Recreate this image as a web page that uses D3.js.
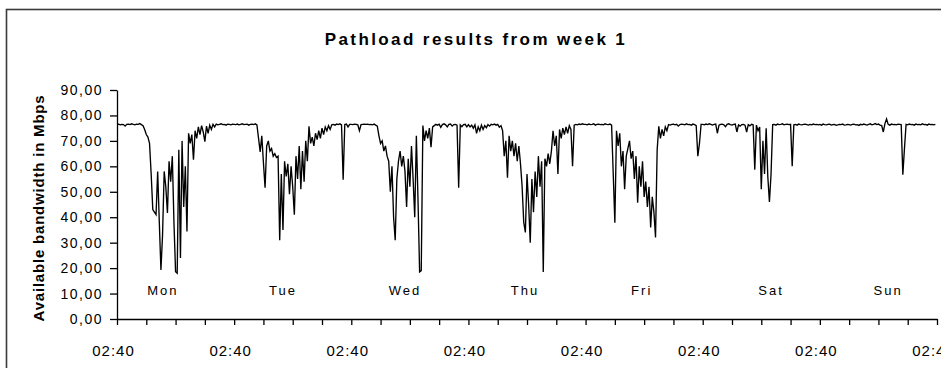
<!DOCTYPE html>
<html>
<head>
<meta charset="utf-8">
<script src="https://cdn.jsdelivr.net/npm/d3@7"></script>
<style>
  html, body { margin: 0; padding: 0; background: #fff; }
  svg { display: block; }
  text { font-family: "Liberation Sans", Arial, sans-serif; fill: #000; }
</style>
</head>
<body>
<div id="chart"></div>
<script>
// one value every 20 minutes, each day starting at 02:40
var mon = [
  76.5, 76.6, 76.3, 76.5, 76.4, 75.8, 76.5, 76.6, 76.4, 76.7, 76.5, 76.3,
  76.6, 76.5, 76.8, 76.4, 76.0, 74.5, 72.5, 71.5, 69, 57, 43, 42,
  41, 58, 38, 19.3, 33, 58, 52, 41.7, 62, 54, 64, 38,
  18.6, 18, 66.5, 24, 70, 44, 60, 34.4, 73, 69, 72.5, 62.6,
  74, 71, 75.5, 72.5, 76, 73.5, 69.7, 75.8, 73, 76.2, 74.5, 76.5,
  75.5, 76.6, 76.3, 76.5, 76.7, 76.4, 76.5, 76.2, 76.6, 76.5, 76.3, 76.6
];
var tue = [
  76.5, 76.4, 76.6, 76.3, 76.5, 76.7, 76.4, 76.5, 76.6, 76.2, 76.5, 76.6,
  76.4, 76.7, 76.3, 71, 65.7, 72, 61.4, 51.6, 68, 70, 66, 67,
  64, 65, 63.5, 64, 31, 57, 35, 62, 56, 61, 49, 60,
  52, 41, 64, 55, 68, 51, 66, 54, 70, 62, 75.7, 69,
  71.5, 68, 73, 70.5, 74, 71, 75, 72.5, 75.5, 74, 76, 74.5,
  76.3, 76.5, 76.2, 76.6, 76.4, 76.7, 76.3, 54.7, 76.4, 76.6, 75.5, 76.5
];
var wed = [
  76.5, 76.4, 76.6, 76.5, 76.3, 74, 76.4, 76.5, 76.6, 76.5, 76.6, 76.4,
  76.5, 76.3, 76.6, 76.2, 75.8, 72, 69, 70, 66, 68, 64, 62,
  50, 60, 40, 31, 55, 62, 66, 60, 64, 58, 44, 63,
  52, 68, 55, 40, 72, 47, 18.5, 19, 76, 70, 74, 71,
  75, 67.5, 75.5, 76, 76.5, 76.2, 76.6, 75.3, 76.4, 76.7, 76.3, 75.5,
  76.5, 76.6, 75.8, 76.4, 76.5, 76.2, 51.6, 76.3, 75.6, 76.4, 76.5, 75.5
];
var thu = [
  76.4, 75.5, 76.2, 75, 76.3, 73, 75.5, 74, 76.2, 74.5, 76, 75.2,
  76.4, 75.8, 76.5, 76.3, 76.6, 76.2, 76.5, 75.4, 76, 74, 64, 70,
  55.5, 72, 66, 70, 64, 69, 62, 68, 61, 52, 38, 34,
  57, 45, 30, 55, 42, 58, 48, 64, 52, 62, 18.5, 63,
  60, 65, 61, 66, 74, 68, 72, 57, 74.5, 71, 75, 72.5,
  75.5, 73, 76, 74.5, 60, 76.2, 76.5, 76.3, 76.6, 76.4, 76.7, 76.5
];
var fri = [
  76.5, 76.3, 76.6, 76.4, 76.5, 76.7, 76.2, 76.5, 76.6, 76.4, 76.5, 76.3,
  76.7, 76.5, 76.4, 76.6, 76.2, 57, 37.8, 74, 68, 73, 60, 66,
  51, 64, 67, 70, 63, 66, 55, 64, 45.7, 60, 52, 62,
  48, 54, 44, 52, 36, 48, 42, 32, 66.5, 75.7, 71, 74.5,
  72, 75.5, 74, 76.4, 76.2, 76.5, 76.6, 76.3, 76.5, 75.8, 76.4, 76.6,
  76.5, 76.3, 76.7, 76.4, 76.5, 76.2, 76.6, 76.4, 76, 64, 69, 76.5
];
var sat = [
  76.5, 76.3, 76.6, 76.4, 76.7, 76.5, 76.2, 76.5, 76.6, 73, 76.2, 76.5,
  76.6, 76.3, 75.6, 76.5, 76.7, 76.4, 76.2, 76.5, 76.6, 73.5, 76.3, 75.8,
  76.4, 76.5, 76.2, 73.5, 76.4, 75.9, 76.5, 76.3, 58.7, 76.2, 74, 75.5,
  51, 70, 57, 75, 56, 46, 57, 76.4, 76.5, 76.2, 76.6, 76.4,
  76.5, 76.7, 76.3, 76.5, 76.6, 76.4, 76.5, 60, 76.3, 76.5, 76.2, 76.6,
  76.4, 76.3, 76.5, 76.6, 76.4, 76.2, 76.5, 76.3, 76.6, 76.4, 76.5, 76.3
];
var sun = [
  76.5, 76.2, 76.6, 76.4, 76.3, 76.5, 76.6, 76.2, 76.4, 76.5, 76.1, 76.3,
  76.5, 76.4, 76.6, 76.2, 76.3, 76.5, 76.4, 76.2, 76.5, 76.6, 76.3, 76.4,
  76.1, 76.5, 76.3, 76.6, 76.4, 76.2, 76.5, 76.7, 76.3, 76.5, 76.8, 76.4,
  76.6, 76.2, 76, 73.5, 76.8, 78.6, 76.5, 76.2, 76.6, 76.4, 76.5, 76.3,
  76.6, 76.5, 76.4, 56.7, 67, 76.5, 76.3, 76.6, 76.4, 76.5, 76.2, 76.6,
  76.4, 76.5, 76.3, 76.7, 76.4, 76.5, 76.2, 76.6, 76.4, 76.5, 76.3, 76.5
];

var dayNames = ["Mon", "Tue", "Wed", "Thu", "Fri", "Sat", "Sun"];
var dayLabelHours = [9.4, 34, 59, 83.6, 107.5, 134, 158]; // hours after first 02:40
var yTicks = [0, 10, 20, 30, 40, 50, 60, 70, 80, 90];
var title = "Pathload results from week 1";
var yTitle = "Available bandwidth in Mbps";

var width = 941;
var height = 368;
var sampleMinutes = 20;
var start = new Date(2004, 0, 5, 2, 40);

var days = [mon, tue, wed, thu, fri, sat, sun];
var data = [];
days.forEach(function (values, d) {
  values.forEach(function (v, i) {
    data.push({ t: d3.timeMinute.offset(start, d * 1440 + i * sampleMinutes), v: v });
  });
});

var x = d3.scaleTime()
  .domain([start, d3.timeDay.offset(start, 7)])
  .range([117, 937]);
var y = d3.scaleLinear().domain([0, 90]).range([319, 90]);

var svg = d3.select("#chart").append("svg")
  .attr("width", width)
  .attr("height", height);

svg.append("rect")
  .attr("width", width).attr("height", height)
  .attr("fill", "#fff");

// chart frame (right and bottom edges fall outside the picture)
svg.append("rect")
  .attr("x", 6.5).attr("y", 9.5)
  .attr("width", 960).attr("height", 400)
  .attr("fill", "none")
  .attr("stroke", "#3a3a3a")
  .attr("stroke-width", 1.6);

svg.append("text")
  .attr("x", 476).attr("y", 45)
  .attr("text-anchor", "middle")
  .style("font-size", "17px")
  .style("font-weight", "bold")
  .style("letter-spacing", "2.4px")
  .text(title);

svg.append("text")
  .attr("transform", "translate(44," + 208 + ") rotate(-90)")
  .attr("text-anchor", "middle")
  .style("font-size", "15px")
  .style("font-weight", "bold")
  .style("letter-spacing", "0.8px")
  .text(yTitle);

// axes
var xTicks = d3.range(29).map(function (k) { return d3.timeMinute.offset(start, k * 360); });
var fmtTime = d3.timeFormat("%H:%M");

var xAxis = svg.append("g")
  .attr("transform", "translate(0," + y(0) + ")")
  .call(d3.axisBottom(x)
    .tickValues(xTicks)
    .tickSize(6)
    .tickSizeOuter(0)
    .tickPadding(20)
    .tickFormat(function (d, i) { return i % 4 === 0 ? fmtTime(d) : ""; }));
xAxis.selectAll("text")
  .attr("dx", "-4")
  .style("font-size", "15px")
  .style("letter-spacing", "1px")
  .style("font-family", "'Liberation Sans', Arial, sans-serif");

var yAxis = svg.append("g")
  .attr("transform", "translate(" + x(start) + ",0)")
  .call(d3.axisLeft(y)
    .tickValues(yTicks)
    .tickSize(7)
    .tickSizeOuter(0)
    .tickPadding(7)
    .tickFormat(function (d) { return d3.format(".2f")(d).replace(".", ","); }));
yAxis.selectAll("text")
  .style("font-size", "14px")
  .style("letter-spacing", "1.5px")
  .style("font-family", "'Liberation Sans', Arial, sans-serif");

svg.selectAll(".domain, .tick line")
  .attr("stroke", "#000")
  .attr("stroke-width", 1.3);

// day annotations
svg.selectAll(".day")
  .data(dayNames)
  .enter().append("text")
  .attr("class", "day")
  .attr("x", function (d, i) { return x(d3.timeMinute.offset(start, dayLabelHours[i] * 60)); })
  .attr("y", y(9.5))
  .attr("text-anchor", "middle")
  .style("font-size", "13px")
  .style("letter-spacing", "2px")
  .text(function (d) { return d; });

var line = d3.line()
  .x(function (d) { return x(d.t); })
  .y(function (d) { return y(d.v); });

svg.append("path")
  .datum(data)
  .attr("fill", "none")
  .attr("stroke", "#000")
  .attr("stroke-width", 1.35)
  .attr("stroke-linejoin", "miter")
  .attr("d", line);
</script>
</body>
</html>
